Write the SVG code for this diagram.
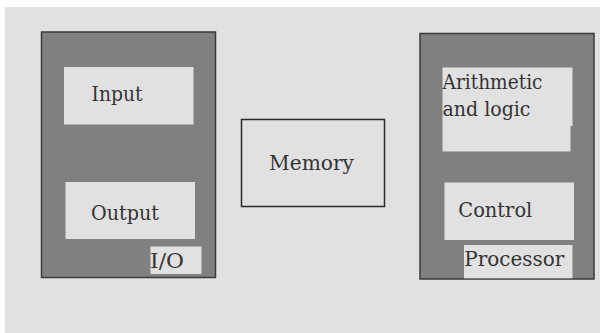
<svg xmlns="http://www.w3.org/2000/svg" width="602" height="333" viewBox="0 0 602 333">
  <style>
    .unit { fill: #808080; stroke: #3a3a3a; stroke-width: 1.5; }
    .part { fill: #e1e1e1; stroke: none; }
    .mem { fill: #e1e1e1; stroke: #2a2a2a; stroke-width: 1.5; }
    text { font-family: 'DejaVu Serif', 'Liberation Serif', serif; font-size: 20px; fill: #333333; }
  </style>
  <rect x="0" y="0" width="602" height="333" fill="#ffffff"/>
  <rect x="5" y="7" width="595" height="326" fill="#e1e1e1"/>

  <g id="io">
    <rect class="unit" x="41.5" y="32" width="174" height="245.5"/>
    <g id="input">
      <rect class="part" x="64" y="67" width="129.5" height="57.5"/>
      <text x="91.5" y="100.5" textLength="51" lengthAdjust="spacingAndGlyphs">Input</text>
    </g>
    <g id="output">
      <rect class="part" x="65.5" y="182" width="129.5" height="57"/>
      <text x="91" y="220" textLength="68" lengthAdjust="spacingAndGlyphs">Output</text>
    </g>
    <rect class="part" x="150.5" y="246.5" width="51" height="27.5"/>
    <text x="150" y="268" textLength="34" lengthAdjust="spacingAndGlyphs">I/O</text>
  </g>

  <g id="memory">
    <rect class="mem" x="241.5" y="119.5" width="143" height="87"/>
    <text x="269" y="170" textLength="85" lengthAdjust="spacingAndGlyphs">Memory</text>
  </g>

  <g id="processor">
    <rect class="unit" x="420" y="33.5" width="174" height="245.5"/>
    <g id="alu">
      <polygon class="part" points="442.5,67.5 572.5,67.5 572.5,126 570.5,126 570.5,151.5 442.5,151.5"/>
      <text x="442.5" y="89" textLength="100" lengthAdjust="spacingAndGlyphs">Arithmetic</text>
      <text x="442.5" y="115.5" textLength="88" lengthAdjust="spacingAndGlyphs">and logic</text>
    </g>
    <g id="control">
      <rect class="part" x="444.5" y="182.5" width="129.5" height="57.5"/>
      <text x="458.3" y="216.7" textLength="74" lengthAdjust="spacingAndGlyphs">Control</text>
    </g>
    <rect class="part" x="464" y="245" width="108.5" height="33.3"/>
    <text x="464.3" y="266" textLength="100" lengthAdjust="spacingAndGlyphs">Processor</text>
  </g>

  <g id="connectors"></g>
</svg>
